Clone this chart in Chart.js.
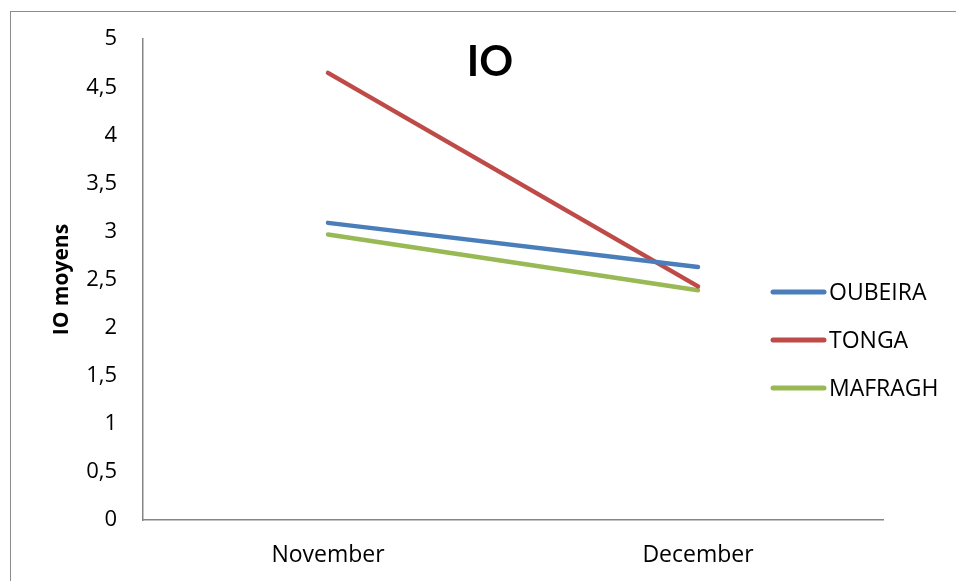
<!DOCTYPE html>
<html>
<head>
<meta charset="utf-8">
<script src="https://cdn.jsdelivr.net/npm/chart.js@4"></script>
<style>
  html, body { margin: 0; padding: 0; background: #fff; }
  #wrap { position: relative; width: 956px; height: 581px; overflow: hidden; }
  #frame { position: absolute; left: 10px; top: 11px; width: 1200px; height: 900px;
           border-left: 1px solid #8c8c8c; border-top: 1px solid #8c8c8c; box-sizing: border-box; }
  canvas { position: absolute; left: 0; top: 0; }
</style>
</head>
<body>
<div id="wrap">
  <div id="frame"></div>
  <canvas id="c" width="956" height="581"></canvas>
</div>
<script>
// Mean IO per site, by month
const months = ['November', 'December'];
const oubeira = [3.09, 2.63];
const tonga = [4.65, 2.43];
const mafragh = [2.97, 2.39];
const yTicks = [0, 0.5, 1, 1.5, 2, 2.5, 3, 3.5, 4, 4.5, 5];

const FONT = '"Open Sans", Lato, sans-serif';
const TITLE_FONT = 'Lato, "Open Sans", sans-serif';
const AXIS_COLOR = '#868686';

// Title and legend drawn on top of the plot
const decorations = {
  id: 'decorations',
  afterDraw(chart) {
    const ctx = chart.ctx;
    ctx.save();
    ctx.fillStyle = '#000';
    ctx.font = 'bold 42px ' + TITLE_FONT;
    ctx.textAlign = 'center';
    ctx.textBaseline = 'middle';
    ctx.fillText('IO', 490, 62);

    ctx.font = '23px ' + FONT;
    ctx.textAlign = 'left';
    chart.data.datasets.forEach((ds, i) => {
      const y = 292 + i * 48;
      ctx.strokeStyle = ds.borderColor;
      ctx.lineWidth = 5;
      ctx.lineCap = 'round';
      ctx.beginPath();
      ctx.moveTo(773, y);
      ctx.lineTo(824, y);
      ctx.stroke();
      ctx.fillStyle = '#000';
      ctx.fillText(ds.label, 829, y + 1);
    });
    ctx.restore();
  }
};

const lineStyle = { borderWidth: 4.5, pointRadius: 0, borderCapStyle: 'round', tension: 0, fill: false };

new Chart(document.getElementById('c'), {
  type: 'line',
  data: {
    labels: months,
    datasets: [
      { label: 'OUBEIRA', data: oubeira, borderColor: '#4a7ebb', ...lineStyle },
      { label: 'TONGA', data: tonga, borderColor: '#be4b48', ...lineStyle },
      { label: 'MAFRAGH', data: mafragh, borderColor: '#98b954', ...lineStyle }
    ]
  },
  plugins: [decorations],
  options: {
    responsive: false,
    animation: false,
    events: [],
    layout: { padding: { left: 49, right: 73, top: 38, bottom: 0 } },
    plugins: { legend: { display: false }, title: { display: false }, tooltip: { enabled: false } },
    scales: {
      x: {
        offset: true,
        grid: { display: false, drawTicks: false },
        border: { color: AXIS_COLOR, width: 1.5 },
        ticks: { color: '#000', font: { family: FONT, size: 23 }, padding: 22 },
        afterFit(scale) { scale.height = 61; }
      },
      y: {
        min: 0, max: 5,
        afterBuildTicks(scale) { scale.ticks = yTicks.map(v => ({ value: v })); },
        grid: { display: false, drawTicks: false },
        border: { color: AXIS_COLOR, width: 1.5 },
        ticks: {
          color: '#000', font: { family: FONT, size: 22 }, padding: 26,
          callback: v => String(v).replace('.', ',')
        },
        title: { display: true, text: 'IO moyens', color: '#000', font: { family: FONT, size: 21, weight: 'bold' }, padding: 0 },
        afterFit(scale) { scale.width = 94; }
      }
    }
  }
});
</script>
</body>
</html>
